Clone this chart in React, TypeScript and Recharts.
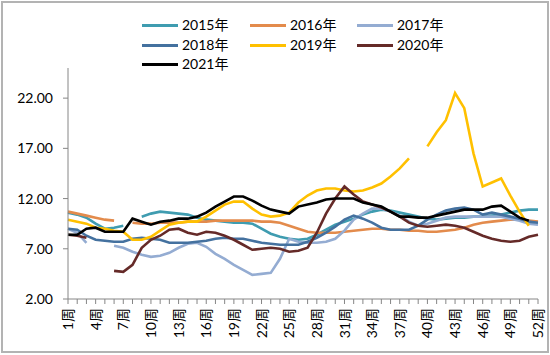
import React from 'react';
import { LineChart, Line, XAxis, YAxis } from 'recharts';

const weeks: string[] = [
  '1周','2周','3周','4周','5周','6周','7周','8周','9周','10周','11周','12周','13周',
  '14周','15周','16周','17周','18周','19周','20周','21周','22周','23周','24周','25周','26周',
  '27周','28周','29周','30周','31周','32周','33周','34周','35周','36周','37周','38周','39周',
  '40周','41周','42周','43周','44周','45周','46周','47周','48周','49周','50周','51周','52周',
];

const yTicks = [2, 7, 12, 17, 22];

const s2015 = [10.6,10.4,10.1,9.5,9.0,9.1,9.3,null,10.2,10.5,10.7,10.6,10.5,10.4,10.1,9.9,9.8,9.7,9.6,9.6,9.5,9.0,8.5,8.2,8.0,7.9,8.0,8.4,8.9,9.4,9.7,10.0,10.4,10.7,10.9,10.8,10.6,10.4,10.2,10.0,9.9,10.0,10.1,10.1,10.2,10.2,10.3,10.4,10.6,10.8,10.9,10.9];
const s2016 = [10.7,10.5,10.3,10.1,9.9,9.8,null,9.6,9.5,9.5,9.6,9.6,9.6,9.7,9.7,9.7,9.8,9.8,9.8,9.8,9.8,9.7,9.7,9.6,9.3,9.0,8.7,8.6,8.6,8.6,8.7,8.8,8.9,9.0,9.0,8.9,8.9,8.8,8.8,8.7,8.7,8.8,8.9,9.1,9.4,9.6,9.7,9.8,9.9,9.9,9.8,9.7];
const s2017 = [9.0,8.6,7.6,null,null,7.3,7.1,6.7,6.4,6.2,6.3,6.6,7.1,7.5,7.6,7.2,6.5,6.0,5.4,4.9,4.4,4.5,4.6,6.0,8.0,7.7,7.6,7.6,7.7,8.0,8.8,9.9,10.5,11.0,11.0,10.7,10.3,9.7,9.3,9.5,9.8,10.1,10.2,10.2,10.2,10.2,10.2,10.2,10.0,9.8,9.5,9.4];
const s2018 = [9.0,8.9,8.3,7.9,7.8,7.7,7.7,8.0,8.1,8.0,7.9,7.6,7.6,7.6,7.7,7.8,8.0,8.1,8.0,8.0,7.8,7.6,7.5,7.4,7.4,7.4,7.7,8.1,8.6,9.2,9.9,10.3,10.0,9.6,9.1,8.9,8.9,8.9,9.3,9.9,10.4,10.8,11.0,11.1,10.9,10.4,10.6,10.4,10.2,10.0,9.7,9.6];
const s2019 = [9.9,9.7,9.5,9.1,9.0,8.8,8.7,7.9,7.9,8.2,8.8,9.4,9.6,9.7,9.7,10.2,10.8,11.4,11.7,11.7,11.0,10.4,10.2,10.3,10.6,11.6,12.3,12.8,13.0,13.0,12.8,12.7,12.8,13.1,13.5,14.2,15.0,16.0,null,17.2,18.6,19.8,22.5,21.0,16.5,13.2,13.6,14.0,12.3,10.7,9.3,null];
const s2020 = [8.4,8.3,8.1,null,null,4.8,4.7,5.4,7.1,7.9,8.3,8.9,9.0,8.6,8.4,8.7,8.6,8.3,7.9,7.4,6.9,7.0,7.1,7.0,6.7,6.8,7.1,8.6,10.5,12.0,13.2,12.4,11.7,11.4,11.1,10.7,10.2,9.6,9.3,9.2,9.3,9.4,9.3,9.1,8.7,8.3,8.0,7.8,7.7,7.8,8.2,8.4];
const s2021 = [8.4,8.4,9.0,9.1,8.7,8.7,8.7,10.0,9.7,9.4,9.7,9.8,10.0,10.0,10.2,10.6,11.2,11.7,12.2,12.2,11.8,11.3,10.9,10.7,10.5,11.2,11.4,11.6,11.9,12.0,12.0,12.0,11.6,11.4,11.2,10.7,10.2,10.2,10.1,10.1,10.3,10.5,10.7,10.9,10.9,10.9,11.2,11.3,10.7,10.1,9.8,null];

const seriesNames = ['2015年','2016年','2017年','2018年','2019年','2020年','2021年'];
const seriesKeys = ['y2015','y2016','y2017','y2018','y2019','y2020','y2021'];
const seriesColors = ['#3f9cb0','#e38b4c','#94acd2','#44719f','#ffc000','#652a28','#000000'];
const seriesValues = [s2015, s2016, s2017, s2018, s2019, s2020, s2021];

const data = weeks.map((w, i) => {
  const row: any = { week: w };
  seriesKeys.forEach((k, j) => { row[k] = seriesValues[j][i]; });
  return row;
});

const FONT = "Lato, 'Noto Sans CJK SC', sans-serif";

const XTick = (props: any) => {
  const { x, y, payload } = props;
  if (payload.index % 3 !== 0) return <g />;
  const yy = y + 2;
  return (
    <text x={x} y={yy} transform={`rotate(-90 ${x} ${yy})`} textAnchor="end" dy="0.36em"
      fontSize={14} fill="#000" fontFamily={FONT}>
      {payload.value}
    </text>
  );
};

const legendCols = [142, 250, 357];
const legendRows = [25, 45, 64];

export default function App() {
  return (
    <div style={{ position: 'absolute', left: 0, top: 0, width: 550, height: 355, background: '#fff', fontFamily: FONT }}>
      <div style={{ position: 'absolute', left: 1, top: 1, width: 548, height: 352, boxSizing: 'border-box', border: '2px solid #b3b3b3' }} />
      <LineChart width={550} height={355} data={data} margin={{ top: 68, right: 12, bottom: 8, left: 8 }}>
        <XAxis dataKey="week" interval={0} tick={<XTick />} tickSize={5} height={48}
          axisLine={{ stroke: '#868686' }} tickLine={{ stroke: '#868686' }} />
        <YAxis domain={[2, 25]} ticks={yTicks} tickFormatter={(v: number) => v.toFixed(2)} width={60}
          tickSize={5} tickMargin={10} allowDataOverflow
          axisLine={{ stroke: '#868686' }} tickLine={{ stroke: '#868686' }}
          tick={{ fontSize: 14, fill: '#000', fontFamily: FONT }} />
        {seriesKeys.map((k, j) => (
          <Line key={k} dataKey={k} name={seriesNames[j]} stroke={seriesColors[j]} strokeWidth={2.6}
            dot={false} activeDot={false} type="linear" isAnimationActive={false} connectNulls={false} />
        ))}
      </LineChart>
      {seriesNames.map((n, j) => {
        const col = legendCols[j % 3];
        const row = legendRows[Math.floor(j / 3)];
        return (
          <div key={n} style={{ position: 'absolute', left: col, top: row - 10, height: 20, display: 'flex', alignItems: 'center' }}>
            <div style={{ width: 36, height: 3, background: seriesColors[j], marginRight: 4 }} />
            <span style={{ fontSize: 14, color: '#000', lineHeight: '20px' }}>{n}</span>
          </div>
        );
      })}
    </div>
  );
}
